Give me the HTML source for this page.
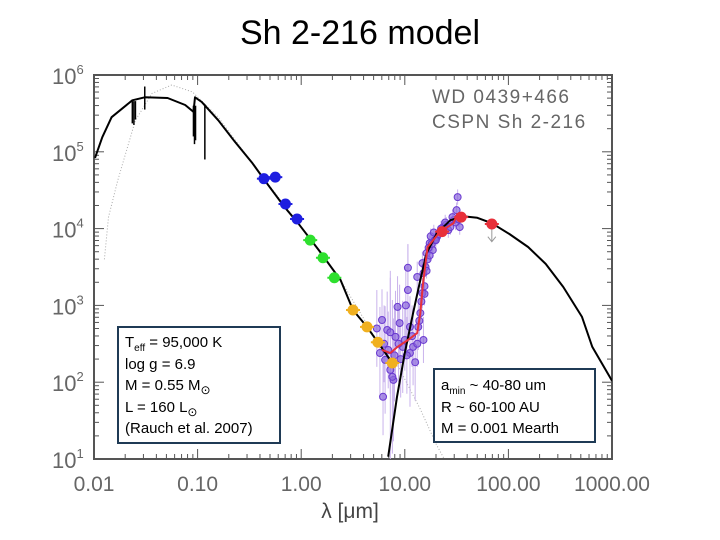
<!DOCTYPE html>
<html><head><meta charset="utf-8">
<style>
body{margin:0;background:#fff;}
#wrap{position:relative;width:720px;height:540px;overflow:hidden;font-family:"Liberation Sans",sans-serif;}
#title{position:absolute;left:0;top:14px;width:720px;text-align:center;font-size:34px;color:#000;}
svg{position:absolute;left:0;top:0;}
.box{position:absolute;border:2px solid #1f3a55;background:#fff;font-size:15px;line-height:21.5px;color:#000;padding:4px 6px;box-sizing:border-box;}
.box sub{line-height:0;vertical-align:-4px;}
</style></head><body>
<div id="wrap">
<div id="title">Sh 2-216 model</div>
<svg id="chart" width="720" height="540"></svg>
<div class="box" style="left:117px;top:326px;width:164px;height:118px;">
T<sub style="font-size:10px">eff</sub> = 95,000 K<br>log g = 6.9<br>M = 0.55 M<sub style="font-size:12px">⊙</sub><br>L = 160 L<sub style="font-size:12px">⊙</sub><br>(Rauch et al. 2007)</div>
<div class="box" style="left:433px;top:368px;width:163px;height:75px;padding-top:5px;">
a<sub style="font-size:10px">min</sub> ~ 40-80 um<br>R ~ 60-100 AU<br>M = 0.001 Mearth</div>
</div>
<script>
// data (log10 lambda [um], log10 flux)
const starX=[-1.99,-1.92,-1.83,-1.63,-1.51,-1.29,-1.12,-1.04,-1.025,-0.96,-0.80,-0.64,-0.47,-0.32,-0.16,-0.03,0.17,0.38,0.50,0.635,0.74,0.88];
const starY=[4.92,5.19,5.45,5.67,5.71,5.70,5.61,5.52,5.71,5.65,5.41,5.13,4.85,4.57,4.28,4.07,3.72,3.33,2.94,2.72,2.52,2.25];
const dustX=[0.84,0.925,1.0,1.08,1.15,1.21,1.31,1.44,1.56,1.70,1.84,2.01,2.19,2.36,2.53,2.71,2.81,3.0];
const dustY=[1.03,1.81,2.38,2.90,3.33,3.68,3.94,4.11,4.16,4.14,4.07,3.93,3.76,3.54,3.24,2.85,2.46,2.02];
const dotX=[-1.9,-1.86,-1.77,-1.60,-1.44,-1.25,-1.05,-0.80,-0.47,-0.03,0.38,0.74,0.9,1.15,1.3,1.38];
const dotY=[3.6,4.15,4.63,5.41,5.76,5.87,5.78,5.45,4.85,4.07,3.33,2.52,2.3,1.65,1.2,1.0];
const lineX=[-1.63,-1.615,-1.60,-1.51,-1.04,-1.03,-1.02,-0.93];
const lineY=[5.37,5.35,5.42,5.85,5.2,5.1,5.15,4.90];
const lineTop=[5.66,5.66,5.66,5.55,5.6,5.6,5.6,5.62];
const blueX=[-0.36,-0.25,-0.152,-0.04], blueY=[4.65,4.67,4.32,4.125];
const greenX=[0.087,0.21,0.32], greenY=[3.85,3.62,3.36];
const orangeX=[0.50,0.635,0.74,0.88], orangeY=[2.94,2.72,2.52,2.25];
const redX=[1.36,1.544,1.84], redY=[3.96,4.15,4.06];
const purpX=[0.78,0.73,0.83,0.86,0.95,0.93,1.01,1.03,1.03,0.76,0.81,0.86,0.89,0.79,0.88,0.98,1.05,1.10,1.08,1.18,1.13,1.15,1.17,1.18,1.21,1.24,1.27,1.31,1.42,1.47,1.50,1.51,1.53,1.37,1.17,1.12,0.91,1.05,1.25,1.29,1.40,
 0.80,0.84,0.90,0.96,1.00,1.07,1.12,1.14,1.16,1.19,1.20,1.22,1.23,1.26,1.28,1.30,1.33,1.35,1.39,1.44,1.46,1.49,1.52,1.19,1.21,1.24,0.94,1.02];
const purpY=[2.81,2.70,2.68,2.65,2.77,2.98,3.00,3.20,3.49,2.38,2.29,2.16,2.03,1.81,2.07,2.46,2.38,2.26,2.46,2.55,2.72,2.90,3.16,3.42,3.68,3.81,3.72,3.89,3.98,4.11,4.24,4.41,4.02,4.02,3.55,3.37,2.59,2.72,3.90,3.85,4.05,
 2.50,2.42,2.35,2.30,2.55,2.60,2.50,2.80,3.05,3.25,3.50,3.60,3.75,3.80,3.95,3.85,3.93,4.00,4.08,4.02,4.15,4.08,4.12,3.15,3.45,3.65,2.50,2.35];
const purpErr=[0.4,0.5,0.5,0.8,0.5,0.4,0.5,0.6,0.3,0.6,0.7,1.2,0.8,0.5,1.0,0.6,0.7,0.5,0.5,0.3,0.3,0.2,0.2,0.15,0.1,0.1,0.1,0.1,0.1,0.1,0.1,0.1,0.1,0.1,0.15,0.2,0.6,0.4,0.1,0.1,0.1,
 0.5,0.5,0.6,0.5,0.4,0.4,0.3,0.2,0.2,0.15,0.1,0.1,0.1,0.1,0.1,0.1,0.1,0.1,0.1,0.1,0.1,0.1,0.1,0.15,0.1,0.1,0.5,0.5];
const redLineX=[0.78,0.86,0.93,1.03,1.12,1.15,1.18,1.22,1.34,1.47,1.51];
const redLineY=[2.42,2.38,2.46,2.55,2.64,2.90,3.33,3.76,3.96,4.07,4.20];
const limitX=[1.84], limitY=[4.06], limitEnd=[3.83];
const xTicks=["0.01","0.10","1.00","10.00","100.00","1000.00"];
const yExp=["1","2","3","4","5","6"];

const L=94,R=612,T=75,B=459;
const sx=v=>L+(v+2)/5*(R-L);
const sy=v=>B-(v-1)/5*(B-T);
const svg=document.getElementById('chart');
const NS='http://www.w3.org/2000/svg';
function mk(tag,attrs){const e=document.createElementNS(NS,tag);for(const k in attrs)e.setAttribute(k,attrs[k]);svg.appendChild(e);return e;}
function path(xs,ys){return xs.map((x,i)=>(i?'L':'M')+sx(x).toFixed(1)+','+sy(ys[i]).toFixed(1)).join('');}

const defs=mk('defs',{});
const cp=document.createElementNS(NS,'clipPath');cp.setAttribute('id','cp');defs.appendChild(cp);
const cr=document.createElementNS(NS,'rect');cr.setAttribute('x',L);cr.setAttribute('y',T);cr.setAttribute('width',R-L);cr.setAttribute('height',B-T);cp.appendChild(cr);

let f=mk('rect',{x:L,y:T,width:R-L,height:B-T,fill:'none',stroke:'#555','stroke-width':2});

for(let d=-2;d<3;d++){for(let m=1;m<10;m++){const v=d+Math.log10(m);const x=sx(v);const len=m===1?10:5;
 let t=mk('line',{x1:x,x2:x,y1:B,y2:B-len,stroke:'#555','stroke-width':1});
 t=mk('line',{x1:x,x2:x,y1:T,y2:T+len,stroke:'#555','stroke-width':1});}}
for(let d=1;d<6;d++){for(let m=1;m<10;m++){const v=d+Math.log10(m);const y=sy(v);const len=m===1?10:5;
 let t=mk('line',{x1:L,x2:L+len,y1:y,y2:y,stroke:'#555','stroke-width':1});
 t=mk('line',{x1:R,x2:R-len,y1:y,y2:y,stroke:'#555','stroke-width':1});}}
xTicks.forEach((s,i)=>{const t=mk('text',{x:sx(i-2),y:491,'text-anchor':'middle','font-size':21,fill:'#666','font-family':'Liberation Sans, sans-serif'});t.textContent=s;
 });
yExp.forEach((s,i)=>{const y=sy(i+1);const t=mk('text',{x:52,y:y+9,'font-size':22,fill:'#666','font-family':'Liberation Sans, sans-serif'});
 t.innerHTML='10<tspan dy="-10" font-size="13">'+s+'</tspan>';});
let xl=mk('text',{x:350,y:518,'text-anchor':'middle','font-size':21,fill:'#444','font-family':'Liberation Sans, sans-serif'});xl.textContent='λ [μm]';

let l1=mk('text',{x:432,y:103,'font-size':19,fill:'#666','letter-spacing':'1.5','font-family':'Liberation Sans, sans-serif'});l1.textContent='WD 0439+466';

let l2=mk('text',{x:432,y:128,'font-size':19,fill:'#666','letter-spacing':'1.5','font-family':'Liberation Sans, sans-serif'});l2.textContent='CSPN Sh 2-216';


const g=mk('g',{'clip-path':'url(#cp)'});
function gm(tag,attrs){const e=mk(tag,attrs);svg.removeChild(e);g.appendChild(e);return e;}
let p=gm('path',{d:path(dotX,dotY),fill:'none',stroke:'#aaa','stroke-width':1,'stroke-dasharray':'1,2'});

purpX.forEach((x,i)=>{const e=gm('line',{x1:sx(x),x2:sx(x),y1:sy(purpY[i]-purpErr[i]),y2:sy(purpY[i]+purpErr[i]),stroke:'#c9b3ec','stroke-width':1});
 });
purpX.forEach((x,i)=>{const c=gm('circle',{cx:sx(x),cy:sy(purpY[i]),r:3.5,fill:'#8a66dc','fill-opacity':0.7,stroke:'#6a3ad0','stroke-width':1});
 });
p=gm('path',{d:path(starX,starY),fill:'none',stroke:'#000','stroke-width':2,'stroke-linejoin':'round'});

p=gm('path',{d:path(dustX,dustY),fill:'none',stroke:'#000','stroke-width':2,'stroke-linejoin':'round'});

lineX.forEach((x,i)=>{const e=gm('line',{x1:sx(x),x2:sx(x),y1:sy(lineTop[i]),y2:sy(lineY[i]),stroke:'#000','stroke-width':1.5});
 });
p=gm('path',{d:path(redLineX,redLineY),fill:'none',stroke:'#e8303a','stroke-width':2});

function dots(xs,ys,col,name){xs.forEach((x,i)=>{const c=gm('circle',{cx:sx(x),cy:sy(ys[i]),r:5,fill:col,stroke:col});
 
 const h=gm('line',{x1:sx(x)-7,x2:sx(x)+7,y1:sy(ys[i]),y2:sy(ys[i]),stroke:col,'stroke-width':2});
 });}
limitX.forEach((x,i)=>{const a=gm('path',{d:`M${sx(x)},${sy(limitY[i])}L${sx(x)},${sy(limitEnd[i])}M${sx(x)-4},${sy(limitEnd[i])-5}L${sx(x)},${sy(limitEnd[i])}L${sx(x)+4},${sy(limitEnd[i])-5}`,fill:'none',stroke:'#999','stroke-width':1});
 });
dots(blueX,blueY,'#1f1fe0','uv-photometry-point');
dots(greenX,greenY,'#2ee02e','optical-photometry-point');
dots(orangeX,orangeY,'#f0b020','nir-photometry-point');
dots(redX,redY,'#e8303a','fir-photometry-point');
</script>
</body></html>
